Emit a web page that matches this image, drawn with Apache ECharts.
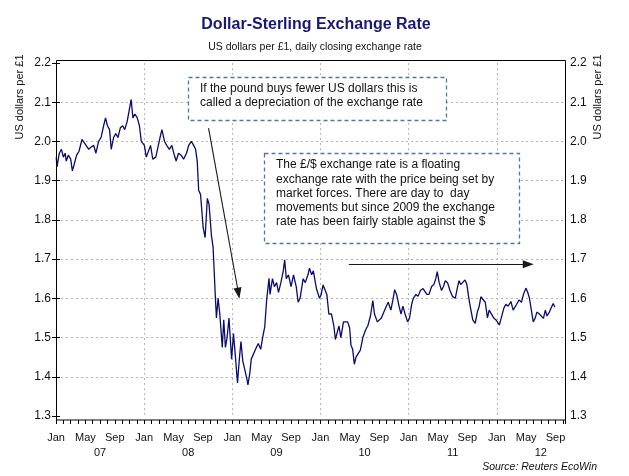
<!DOCTYPE html>
<html><head><meta charset="utf-8">
<script src="https://cdn.jsdelivr.net/npm/echarts@6/dist/echarts.min.js"></script>
<style>html,body{margin:0;padding:0;background:#fff}#c{width:629px;height:476px}</style>
</head><body><div id="c"></div>
<script>
const y2007 = [["2007-01-02",1.96],["2007-01-05",1.935],["2007-01-08",1.93],["2007-01-15",1.97],["2007-01-24",1.98],["2007-02-01",1.96],["2007-02-08",1.97],["2007-02-12",1.95],["2007-02-20",1.965],["2007-03-01",1.955],["2007-03-08",1.925],["2007-03-15",1.94],["2007-03-26",1.965],["2007-04-05",1.975],["2007-04-17",2.005],["2007-04-25",2.0],["2007-05-04",1.99],["2007-05-15",1.98],["2007-05-24",1.985],["2007-06-05",1.99],["2007-06-14",1.97],["2007-06-25",2.0],["2007-07-05",2.01],["2007-07-16",2.04],["2007-07-24",2.06],["2007-08-01",2.04],["2007-08-10",2.03],["2007-08-17",1.98],["2007-08-27",2.01],["2007-09-05",2.02],["2007-09-14",2.01],["2007-09-24",2.035],["2007-10-03",2.04],["2007-10-12",2.03],["2007-10-22",2.05],["2007-10-31",2.08],["2007-11-08",2.107],["2007-11-15",2.06],["2007-11-23",2.07],["2007-12-03",2.06],["2007-12-12",2.04],["2007-12-20",2.0]];
const y2008 = [["2008-01-02",1.99],["2008-01-10",1.96],["2008-01-18",1.955],["2008-01-28",1.99],["2008-02-06",1.955],["2008-02-18",1.96],["2008-02-28",1.99],["2008-03-06",2.01],["2008-03-14",2.03],["2008-03-25",2.0],["2008-04-03",1.99],["2008-04-14",1.98],["2008-04-24",1.99],["2008-05-02",1.97],["2008-05-12",1.95],["2008-05-22",1.97],["2008-06-02",1.965],["2008-06-12",1.955],["2008-06-24",1.97],["2008-07-03",1.99],["2008-07-14",2.0],["2008-07-24",1.99],["2008-08-01",1.98],["2008-08-08",1.95],["2008-08-14",1.875],["2008-08-22",1.865],["2008-09-02",1.78],["2008-09-10",1.755],["2008-09-19",1.855],["2008-09-26",1.84],["2008-10-06",1.76],["2008-10-13",1.73],["2008-10-17",1.73],["2008-10-22",1.61],["2008-10-27",1.55],["2008-11-03",1.60],["2008-11-10",1.56],["2008-11-20",1.475],["2008-11-26",1.545],["2008-12-03",1.475],["2008-12-10",1.50],["2008-12-18",1.55],["2008-12-29",1.445]];
const y2009 = [["2009-01-06",1.51],["2009-01-13",1.46],["2009-01-23",1.384],["2009-01-30",1.44],["2009-02-06",1.49],["2009-02-13",1.44],["2009-02-20",1.42],["2009-03-02",1.39],["2009-03-05",1.379],["2009-03-13",1.41],["2009-03-19",1.445],["2009-03-27",1.44],["2009-04-06",1.47],["2009-04-17",1.485],["2009-04-27",1.47],["2009-05-05",1.50],["2009-05-14",1.528],["2009-05-22",1.596],["2009-06-01",1.651],["2009-06-05",1.61],["2009-06-15",1.65],["2009-06-23",1.63],["2009-07-02",1.64],["2009-07-10",1.615],["2009-07-20",1.64],["2009-07-30",1.67],["2009-08-05",1.698],["2009-08-12",1.65],["2009-08-21",1.66],["2009-09-01",1.63],["2009-09-11",1.66],["2009-09-22",1.63],["2009-09-30",1.59],["2009-10-08",1.60],["2009-10-21",1.65],["2009-10-30",1.64],["2009-11-10",1.66],["2009-11-16",1.677],["2009-11-25",1.66],["2009-12-02",1.67],["2009-12-15",1.625],["2009-12-28",1.60]];
const y2010 = [["2010-01-04",1.61],["2010-01-12",1.634],["2010-01-20",1.63],["2010-01-28",1.61],["2010-02-05",1.56],["2010-02-15",1.56],["2010-02-24",1.53],["2010-03-02",1.495],["2010-03-10",1.50],["2010-03-17",1.53],["2010-03-25",1.50],["2010-04-05",1.54],["2010-04-13",1.545],["2010-04-22",1.54],["2010-04-30",1.525],["2010-05-06",1.48],["2010-05-13",1.47],["2010-05-20",1.432],["2010-05-27",1.45],["2010-06-04",1.45],["2010-06-14",1.468],["2010-06-24",1.50],["2010-07-06",1.52],["2010-07-15",1.53],["2010-07-26",1.555],["2010-08-05",1.594],["2010-08-12",1.56],["2010-08-24",1.54],["2010-09-01",1.54],["2010-09-10",1.55],["2010-09-20",1.565],["2010-09-30",1.58],["2010-10-08",1.59],["2010-10-19",1.57],["2010-10-29",1.60],["2010-11-04",1.622],["2010-11-12",1.61],["2010-11-22",1.58],["2010-11-30",1.56],["2010-12-08",1.58],["2010-12-17",1.56],["2010-12-28",1.54]];
const y2011 = [["2011-01-05",1.55],["2011-01-14",1.585],["2011-01-21",1.60],["2011-02-01",1.61],["2011-02-09",1.605],["2011-02-18",1.62],["2011-02-28",1.625],["2011-03-08",1.63],["2011-03-16",1.61],["2011-03-25",1.61],["2011-04-05",1.63],["2011-04-14",1.635],["2011-04-22",1.65],["2011-04-28",1.668],["2011-05-06",1.64],["2011-05-16",1.62],["2011-05-24",1.63],["2011-06-01",1.645],["2011-06-10",1.64],["2011-06-20",1.62],["2011-06-30",1.605],["2011-07-06",1.605],["2011-07-12",1.60],["2011-07-20",1.625],["2011-07-28",1.645],["2011-08-04",1.635],["2011-08-12",1.63],["2011-08-22",1.647],["2011-08-30",1.635],["2011-09-07",1.60],["2011-09-14",1.575],["2011-09-23",1.545],["2011-10-03",1.536],["2011-10-12",1.565],["2011-10-20",1.58],["2011-10-27",1.604],["2011-11-04",1.60],["2011-11-14",1.59],["2011-11-23",1.55],["2011-11-30",1.57],["2011-12-08",1.57],["2011-12-19",1.55],["2011-12-29",1.545]];
const y2012 = [["2012-01-06",1.545],["2012-01-12",1.532],["2012-01-20",1.55],["2012-01-31",1.575],["2012-02-08",1.585],["2012-02-17",1.58],["2012-02-28",1.592],["2012-03-08",1.57],["2012-03-15",1.57],["2012-03-23",1.585],["2012-04-02",1.596],["2012-04-12",1.59],["2012-04-20",1.61],["2012-04-30",1.626],["2012-05-08",1.615],["2012-05-15",1.60],["2012-05-23",1.57],["2012-05-31",1.54],["2012-06-08",1.55],["2012-06-15",1.565],["2012-06-25",1.56],["2012-07-03",1.562],["2012-07-12",1.549],["2012-07-20",1.57],["2012-07-27",1.555],["2012-08-06",1.565],["2012-08-14",1.57],["2012-08-22",1.587],["2012-08-29",1.578]];

const monthLabels = ["Jan","May","Sep"];
const yearLabels = ["07","08","09","10","11","12"];
const yMin = 1.3, yMax = 2.2, yStep = 0.1;
const axisStart = "2007-01-01", axisEnd = "2012-10-10";

const titleText = "Dollar-Sterling Exchange Rate";
const subText = "US dollars per £1, daily closing exchange rate";
const yName = "US dollars per £1";
const sourceText = "Source: Reuters EcoWin";
const box1Lines = ["If the pound buys fewer US dollars this is","called a depreciation of the exchange rate"];
const box2Lines = ["The £/$ exchange rate is a floating","exchange rate with the price being set by","market forces. There are day to  day","movements but since 2009 the exchange","rate has been fairly stable against the $"];
// arrows (date, value) endpoints
const arrow1 = [["2008-09-24",2.034],["2009-01-27",1.613]];
const arrow2 = [["2010-04-27",1.687],["2012-05-10",1.687]];

// ---- helpers ----
function toM(s){const p=s.split('-').map(Number);const dim=new Date(p[0],p[1],0).getDate();return (p[0]-2007)*12+(p[1]-1)+(p[2]-1)/dim;}
const all = [].concat(y2007,y2008,y2009,y2010,y2011,y2012).map(d=>[toM(d[0]),d[1]]);
const xMin = toM(axisStart), xMax = toM(axisEnd);

const FONT = "'Liberation Sans', Arial, sans-serif";
const grid = {left:56, right:64, top:63, bottom:60};
const gridColor = '#b4b4b4';
const isInt = v => Math.abs(v-Math.round(v))<1e-6;

const chart = echarts.init(document.getElementById('c'), null, {renderer:'canvas'});
const option = {
  animation:false,
  backgroundColor:'#fff',
  textStyle:{fontFamily:FONT},
  title:[
    {text:titleText, left:311, top:12, textAlign:'center', textStyle:{fontFamily:FONT, fontSize:16, fontWeight:'bold', color:'#17177a'}},
    {text:subText, left:310, top:37, textAlign:'center', textStyle:{fontFamily:FONT, fontSize:10.5, fontWeight:'normal', color:'#111'}}
  ],
  grid:grid,
  xAxis:[
    {type:'value', position:'bottom', offset:4, min:xMin, max:xMax, interval:4,
     axisLine:{show:false}, axisTick:{show:true,length:4,lineStyle:{color:'#000'}},
     minorTick:{show:true, splitNumber:4, length:4, lineStyle:{color:'#000'}},
     axisLabel:{margin:12, fontSize:11, color:'#111', fontFamily:FONT,
       formatter:v=>{if(!isInt(v))return '';const k=Math.round(v);return k%4===0?monthLabels[(k%12)/4]:'';}},
     splitLine:{show:false}},
    {type:'value', position:'bottom', offset:4, min:xMin, max:xMax, interval:12,
     axisLine:{show:false}, axisTick:{show:false}, axisLabel:{show:false},
     splitLine:{show:true, showMinLine:false, showMaxLine:false, lineStyle:{type:[2,3], color:gridColor, width:1}}},
    {type:'value', position:'bottom', offset:4, min:xMin, max:xMax, interval:6,
     axisLine:{show:false}, axisTick:{show:false},
     axisLabel:{margin:27, fontSize:11, color:'#111', fontFamily:FONT,
       formatter:v=>{if(!isInt(v))return '';const k=Math.round(v);return k%12===6?yearLabels[(k-6)/12]:'';}},
     splitLine:{show:false}}
  ],
  yAxis:[
    {type:'value', position:'left', min:yMin, max:yMax, interval:yStep,
     axisLine:{show:false}, axisTick:{show:true,length:4,lineStyle:{color:'#000'}},
     axisLabel:{margin:5, fontSize:12, color:'#111', fontFamily:FONT, formatter:v=>v.toFixed(1)},
     splitLine:{show:true, showMinLine:false, showMaxLine:false, lineStyle:{type:[2,3], color:gridColor, width:1}}},
    {type:'value', position:'right', min:yMin, max:yMax, interval:yStep,
     axisLine:{show:false}, axisTick:{show:true,length:4,lineStyle:{color:'#000'}},
     axisLabel:{margin:5, fontSize:12, color:'#111', fontFamily:FONT, formatter:v=>v.toFixed(1)},
     splitLine:{show:false}}
  ],
  series:[{
    type:'line', xAxisIndex:0, yAxisIndex:0, data:all, showSymbol:false, symbol:'none',
    lineStyle:{color:'#0b0b70', width:1.3}, z:3,
    markLine:{silent:true, symbol:['none','triangle'], symbolSize:[8,11], label:{show:false},
      lineStyle:{color:'#1a1a1a', width:1.1, type:'solid'},
      data:[
        [{coord:[toM(arrow1[0][0]),arrow1[0][1]]},{coord:[toM(arrow1[1][0]),arrow1[1][1]]}],
        [{coord:[toM(arrow2[0][0]),arrow2[0][1]]},{coord:[toM(arrow2[1][0]),arrow2[1][1]]}]
      ]}
  }],
  graphic:[
    {type:'rect', z:50, silent:true, shape:{x:56.5,y:60.5,width:509,height:359.5}, style:{fill:'none', stroke:'#000', lineWidth:1}},
    {type:'rect', z:40, silent:true, shape:{x:188.5,y:77.5,width:258,height:43}, style:{fill:'#fff', stroke:'#4f77a8', lineWidth:1.3, lineDash:[4,3]}},
    {type:'text', z:41, silent:true, left:200, top:82, style:{text:box1Lines.join('\n'), font:'12px '+FONT, fill:'#111', lineHeight:14}},
    {type:'rect', z:40, silent:true, shape:{x:264.5,y:153.5,width:255,height:90}, style:{fill:'#fff', stroke:'#4f77a8', lineWidth:1.3, lineDash:[4,3]}},
    {type:'text', z:41, silent:true, left:276, top:158, style:{text:box2Lines.join('\n'), font:'12px '+FONT, fill:'#111', lineHeight:14.2}},
    {type:'text', silent:true, x:20, y:97, rotation:Math.PI/2, style:{text:yName, font:'11px '+FONT, fill:'#111', align:'center', verticalAlign:'middle'}},
    {type:'text', silent:true, x:598, y:97, rotation:Math.PI/2, style:{text:yName, font:'11px '+FONT, fill:'#111', align:'center', verticalAlign:'middle'}},
    {type:'text', silent:true, x:597, y:467, style:{text:sourceText, font:'italic 10.5px '+FONT, fill:'#111', align:'right', verticalAlign:'middle'}}
  ]
};
chart.setOption(option);
</script></body></html>
